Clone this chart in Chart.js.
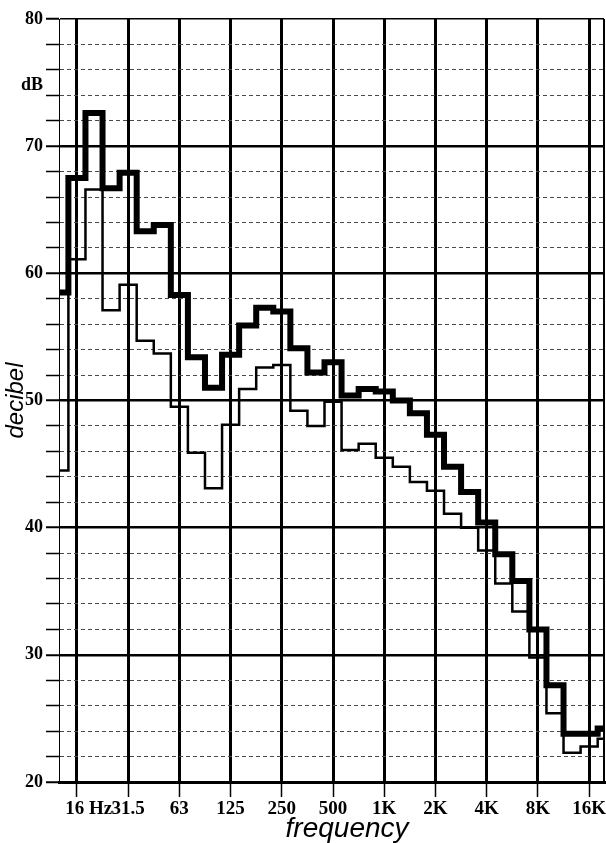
<!DOCTYPE html>
<html>
<head>
<meta charset="utf-8">
<script src="https://cdn.jsdelivr.net/npm/chart.js@4/dist/chart.umd.min.js"></script>
<style>
  html, body { margin: 0; padding: 0; background: #fff; }
  #wrap { width: 606px; height: 843px; }
</style>
</head>
<body>
<div id="wrap"><canvas id="spectrum"></canvas></div>
<script>
// third-octave bands shown, 12.5 Hz .. 20 kHz (16 Hz is position 0)
const bands = ['12.5', '16', '20', '25', '31.5', '40', '50', '63', '80', '100', '125', '160', '200',
  '250', '315', '400', '500', '630', '800', '1k', '1.25k', '1.6k', '2k', '2.5k', '3.15k', '4k',
  '5k', '6.3k', '8k', '10k', '12.5k', '16k', '20k'];

// heavy curve, dB per band
const upperLevels = [58.5, 67.5, 72.6, 66.7, 67.9, 63.3, 63.8, 58.3, 53.4, 51.0, 53.6, 55.9, 57.3,
  57.0, 54.1, 52.2, 53.0, 50.4, 50.9, 50.7, 50.0, 49.0, 47.3, 44.8, 42.8, 40.4,
  37.9, 35.8, 32.0, 27.6, 23.8, 23.8, 24.2];

// light curve, dB per band
const lowerLevels = [44.5, 61.1, 66.6, 57.1, 59.1, 54.7, 53.7, 49.5, 45.9, 43.1, 48.1, 50.9, 52.6,
  52.8, 49.2, 48.0, 49.9, 46.1, 46.6, 45.5, 44.8, 43.6, 42.9, 41.1, 40.0, 38.2,
  35.6, 33.4, 29.8, 25.4, 22.3, 22.8, 23.4];

// octave tick labels (every third band from 16 Hz); the first one sits right of its line
const octaveLabels = ['     16 Hz', '31.5', '63', '125', '250', '500', '1K', '2K', '4K', '8K', '16K'];

const X_MIN = -1.05;
const X_MAX = 30.87;

// each band holds its level from its lower edge to its upper edge
function toSteps(levels) {
  const pts = levels.map((v, k) => ({ x: k - 1.5, y: v }));
  pts.push({ x: levels.length - 1.5, y: levels[levels.length - 1] });
  return pts;
}

const serifBold = '"Liberation Serif", "Times New Roman", serif';
const xLabelFont = { family: serifBold, size: 19, weight: 'bold' };
const yLabelFont = { family: serifBold, size: 18, weight: 'bold' };
const sans = '"Liberation Sans", Arial, sans-serif';

const dbLabel = {
  id: 'dbLabel',
  afterDraw(chart) {
    const ctx = chart.ctx;
    ctx.save();
    ctx.font = 'bold 18px ' + serifBold;
    ctx.fillStyle = '#000';
    ctx.textAlign = 'left';
    ctx.textBaseline = 'middle';
    ctx.fillText('dB', 21, 85);
    ctx.restore();
  }
};

new Chart(document.getElementById('spectrum'), {
  type: 'line',
  data: {
    datasets: [
      {
        label: 'upper',
        data: toSteps(upperLevels),
        borderColor: '#000',
        borderWidth: 6,
        stepped: 'before',
        pointRadius: 0,
        borderJoinStyle: 'miter',
        fill: false,
        clip: 0
      },
      {
        label: 'lower',
        data: toSteps(lowerLevels),
        borderColor: '#000',
        borderWidth: 2.5,
        stepped: 'before',
        pointRadius: 0,
        borderJoinStyle: 'miter',
        fill: false,
        clip: 0
      }
    ]
  },
  options: {
    responsive: true,
    maintainAspectRatio: false,
    devicePixelRatio: 1,
    animation: false,
    layout: { padding: { top: 19, right: 2, left: 0, bottom: 0 } },
    plugins: {
      legend: { display: false },
      tooltip: { enabled: false }
    },
    scales: {
      x: {
        type: 'linear',
        min: X_MIN,
        max: X_MAX,
        afterBuildTicks(scale) {
          const ticks = octaveLabels.map((_, i) => ({ value: i * 3 }));
          ticks.push({ value: X_MAX });
          scale.ticks = ticks;
        },
        afterFit(scale) { scale.height = 61; },
        ticks: {
          autoSkip: false,
          maxRotation: 0,
          padding: 1,
          color: '#000',
          font: xLabelFont,
          callback: (value, index) => octaveLabels[index] || ''
        },
        grid: {
          color: '#000',
          lineWidth: ctx => ctx.tick && ctx.tick.value === X_MAX ? 2 : 3,
          tickLength: 15,
          tickWidth: 1.5,
          tickColor: ctx => ctx.tick && ctx.tick.value === X_MAX ? 'rgba(0,0,0,0)' : '#000'
        },
        border: { display: true, color: '#000', width: 3 },
        title: {
          display: true,
          text: '    frequency',
          color: '#000',
          font: { family: sans, size: 28, style: 'italic', lineHeight: 1.0 },
          padding: { top: 0, bottom: 0 }
        }
      },
      y: {
        min: 20,
        max: 80,
        afterFit(scale) { scale.width = 59; },
        ticks: {
          stepSize: 2,
          autoSkip: false,
          padding: 3,
          color: '#000',
          font: yLabelFont,
          callback: v => (v % 10 === 0 ? v : '')
        },
        grid: {
          color: ctx => ctx.tick && ctx.tick.value % 10 === 0 ? '#000' : '#4a4a4a',
          lineWidth: ctx => {
            if (!ctx.tick) return 1;
            if (ctx.tick.value === 80) return 1.5;
            return ctx.tick.value % 10 === 0 ? 2.5 : 1;
          },
          tickLength: 13,
          tickColor: '#000',
          tickWidth: ctx => ctx.tick && ctx.tick.value % 10 === 0 ? 2 : 1.5
        },
        border: {
          display: true,
          color: '#000',
          width: 1,
          dash: ctx => {
            if (ctx.type === 'scale') return [3, 2];
            return ctx.tick && ctx.tick.value % 10 !== 0 ? [4, 3] : [];
          }
        },
        title: {
          display: true,
          text: 'decibel',
          color: '#000',
          font: { family: sans, size: 24, style: 'italic' },
          padding: { top: 2, bottom: 0 }
        }
      }
    }
  },
  plugins: [dbLabel]
});
</script>
</body>
</html>
